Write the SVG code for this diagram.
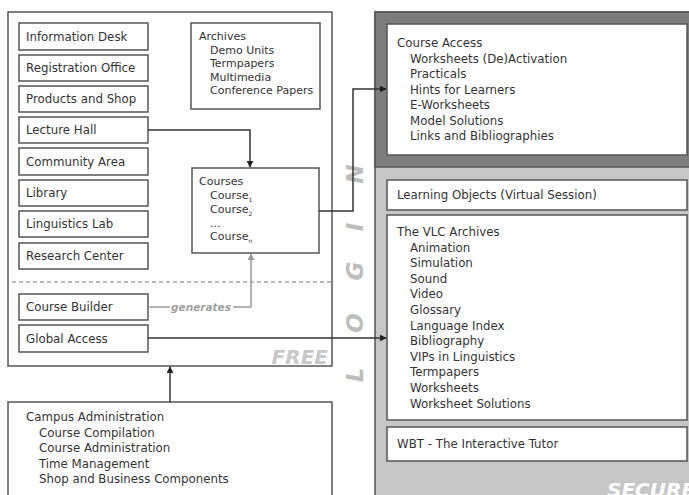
<svg xmlns="http://www.w3.org/2000/svg" width="689" height="495" viewBox="0 0 689 495">
<style>
text{font-family:"DejaVu Sans","Liberation Sans",sans-serif;font-size:11.8px;fill:#333}
.box{fill:#fff;stroke:#555;stroke-width:1.5}
.frame{fill:#fff;stroke:#555;stroke-width:1.5}
.conn{fill:none;stroke:#333;stroke-width:1.5}
.gconn{fill:none;stroke:#999;stroke-width:1.5}
.big{font-weight:bold;font-style:italic;font-size:20px}
.login{font-weight:bold;font-style:italic;font-size:23px;fill:#bdbdbd}
</style>
<defs>
<marker id="ah" viewBox="0 0 10 10" refX="9" refY="5" markerWidth="7" markerHeight="7" orient="auto" markerUnits="userSpaceOnUse"><path d="M0,0L10,5L0,10z" fill="#222"/></marker>
<marker id="ahg" viewBox="0 0 10 10" refX="9" refY="5" markerWidth="7" markerHeight="7" orient="auto" markerUnits="userSpaceOnUse"><path d="M0,0L10,5L0,10z" fill="#999"/></marker>
</defs>
<rect width="689" height="495" fill="#fff"/>

<!-- FREE region -->
<g id="free">
<rect class="frame" x="8" y="12" width="324" height="354"/>
<line x1="12" y1="282" x2="332" y2="282" stroke="#777" stroke-width="1" stroke-dasharray="4 3"/>
<text class="big" x="328" y="364" text-anchor="end" style="fill:#c8c8c8">FREE</text>
</g>

<!-- SECURE region -->
<g id="secure">
<rect x="375" y="12" width="320" height="500" fill="#c6c6c6" stroke="#555" stroke-width="1.5"/>
<rect x="375" y="12" width="320" height="155" fill="#7d7d7d" stroke="#555" stroke-width="1.5"/>
<text class="big" x="607" y="497" style="fill:#fff">SECURE</text>
</g>

<!-- LOGIN -->
<g id="login">
<text class="login" transform="translate(355,375) rotate(-90)" text-anchor="middle" dominant-baseline="central">L</text>
<text class="login" transform="translate(355,323) rotate(-90)" text-anchor="middle" dominant-baseline="central">O</text>
<text class="login" transform="translate(355,271) rotate(-90)" text-anchor="middle" dominant-baseline="central">G</text>
<text class="login" transform="translate(355,227) rotate(-90)" text-anchor="middle" dominant-baseline="central">I</text>
<text class="login" transform="translate(355,174) rotate(-90)" text-anchor="middle" dominant-baseline="central">N</text>
</g>

<g id="information-desk"><rect class="box" x="19" y="23" width="129" height="27"/><text x="26" y="41">Information Desk</text></g>
<g id="registration-office"><rect class="box" x="19" y="55" width="129" height="26"/><text x="26" y="72">Registration Office</text></g>
<g id="products-and-shop"><rect class="box" x="19" y="86" width="129" height="26"/><text x="26" y="103">Products and Shop</text></g>
<g id="lecture-hall"><rect class="box" x="19" y="117" width="129" height="26"/><text x="26" y="134">Lecture Hall</text></g>
<g id="community-area"><rect class="box" x="19" y="148" width="129" height="27"/><text x="26" y="166">Community Area</text></g>
<g id="library"><rect class="box" x="19" y="180" width="129" height="26"/><text x="26" y="197">Library</text></g>
<g id="linguistics-lab"><rect class="box" x="19" y="211" width="129" height="26"/><text x="26" y="228">Linguistics Lab</text></g>
<g id="research-center"><rect class="box" x="19" y="243" width="129" height="26"/><text x="26" y="260">Research Center</text></g>
<g id="course-builder"><rect class="box" x="19" y="294" width="129" height="26"/><text x="26" y="311">Course Builder</text></g>
<g id="global-access"><rect class="box" x="19" y="325" width="129" height="27"/><text x="26" y="343">Global Access</text></g>

<g id="archives"><rect class="box" x="191" y="23" width="129" height="86"/>
<text x="199" y="40" style="font-size:11px">Archives</text>
<text x="210" y="54" style="font-size:11px">Demo Units</text>
<text x="210" y="67" style="font-size:11px">Termpapers</text>
<text x="210" y="81" style="font-size:11px">Multimedia</text>
<text x="210" y="94" style="font-size:11px">Conference Papers</text>
</g>

<g id="courses"><rect class="box" x="192" y="168" width="127" height="85"/>
<text x="199" y="185" style="font-size:11px">Courses</text>
<text x="210" y="199" style="font-size:11px">Course<tspan font-size="6" dy="3">1</tspan></text>
<text x="210" y="213" style="font-size:11px">Course<tspan font-size="6" dy="3">2</tspan></text>
<text x="210" y="227" style="font-size:11px">...</text>
<text x="210" y="240" style="font-size:11px">Course<tspan font-size="6" dy="3">n</tspan></text>
</g>

<g id="campus-administration"><rect class="box" x="8" y="402" width="324" height="110"/>
<text x="26" y="421">Campus Administration</text>
<text x="39" y="437">Course Compilation</text>
<text x="39" y="452">Course Administration</text>
<text x="39" y="468">Time Management</text>
<text x="39" y="483">Shop and Business Components</text>
</g>

<g id="course-access"><rect class="box" x="387" y="24" width="300" height="131"/>
<text x="397" y="47">Course Access</text>
<text x="410" y="63">Worksheets (De)Activation</text>
<text x="410" y="78">Practicals</text>
<text x="410" y="94">Hints for Learners</text>
<text x="410" y="109">E-Worksheets</text>
<text x="410" y="125">Model Solutions</text>
<text x="410" y="140">Links and Bibliographies</text>
</g>

<g id="learning-objects"><rect class="box" x="387" y="180" width="300" height="30"/>
<text x="397" y="199">Learning Objects (Virtual Session)</text></g>

<g id="vlc-archives"><rect class="box" x="387" y="215" width="300" height="205"/>
<text x="397" y="236">The VLC Archives</text>
<text x="410" y="252">Animation</text>
<text x="410" y="267">Simulation</text>
<text x="410" y="283">Sound</text>
<text x="410" y="298">Video</text>
<text x="410" y="314">Glossary</text>
<text x="410" y="330">Language Index</text>
<text x="410" y="345">Bibliography</text>
<text x="410" y="361">VIPs in Linguistics</text>
<text x="410" y="376">Termpapers</text>
<text x="410" y="392">Worksheets</text>
<text x="410" y="408">Worksheet Solutions</text>
</g>

<g id="wbt"><rect class="box" x="387" y="427" width="300" height="34"/>
<text x="397" y="448">WBT - The Interactive Tutor</text></g>

<g id="connectors">
<path class="conn" d="M148,130H250V167" marker-end="url(#ah)"/>
<path class="gconn" d="M148,307H170M233,307H251V254" marker-end="url(#ahg)"/>
<text x="201" y="311" text-anchor="middle" style="font-style:italic;font-weight:bold;font-size:10.5px;fill:#a0a0a0">generates</text>
<path class="conn" d="M319,211H353V89H386" marker-end="url(#ah)"/>
<path class="conn" d="M148,338H386" marker-end="url(#ah)"/>
<path class="conn" d="M170,402V367" marker-end="url(#ah)"/>
</g>
</svg>
